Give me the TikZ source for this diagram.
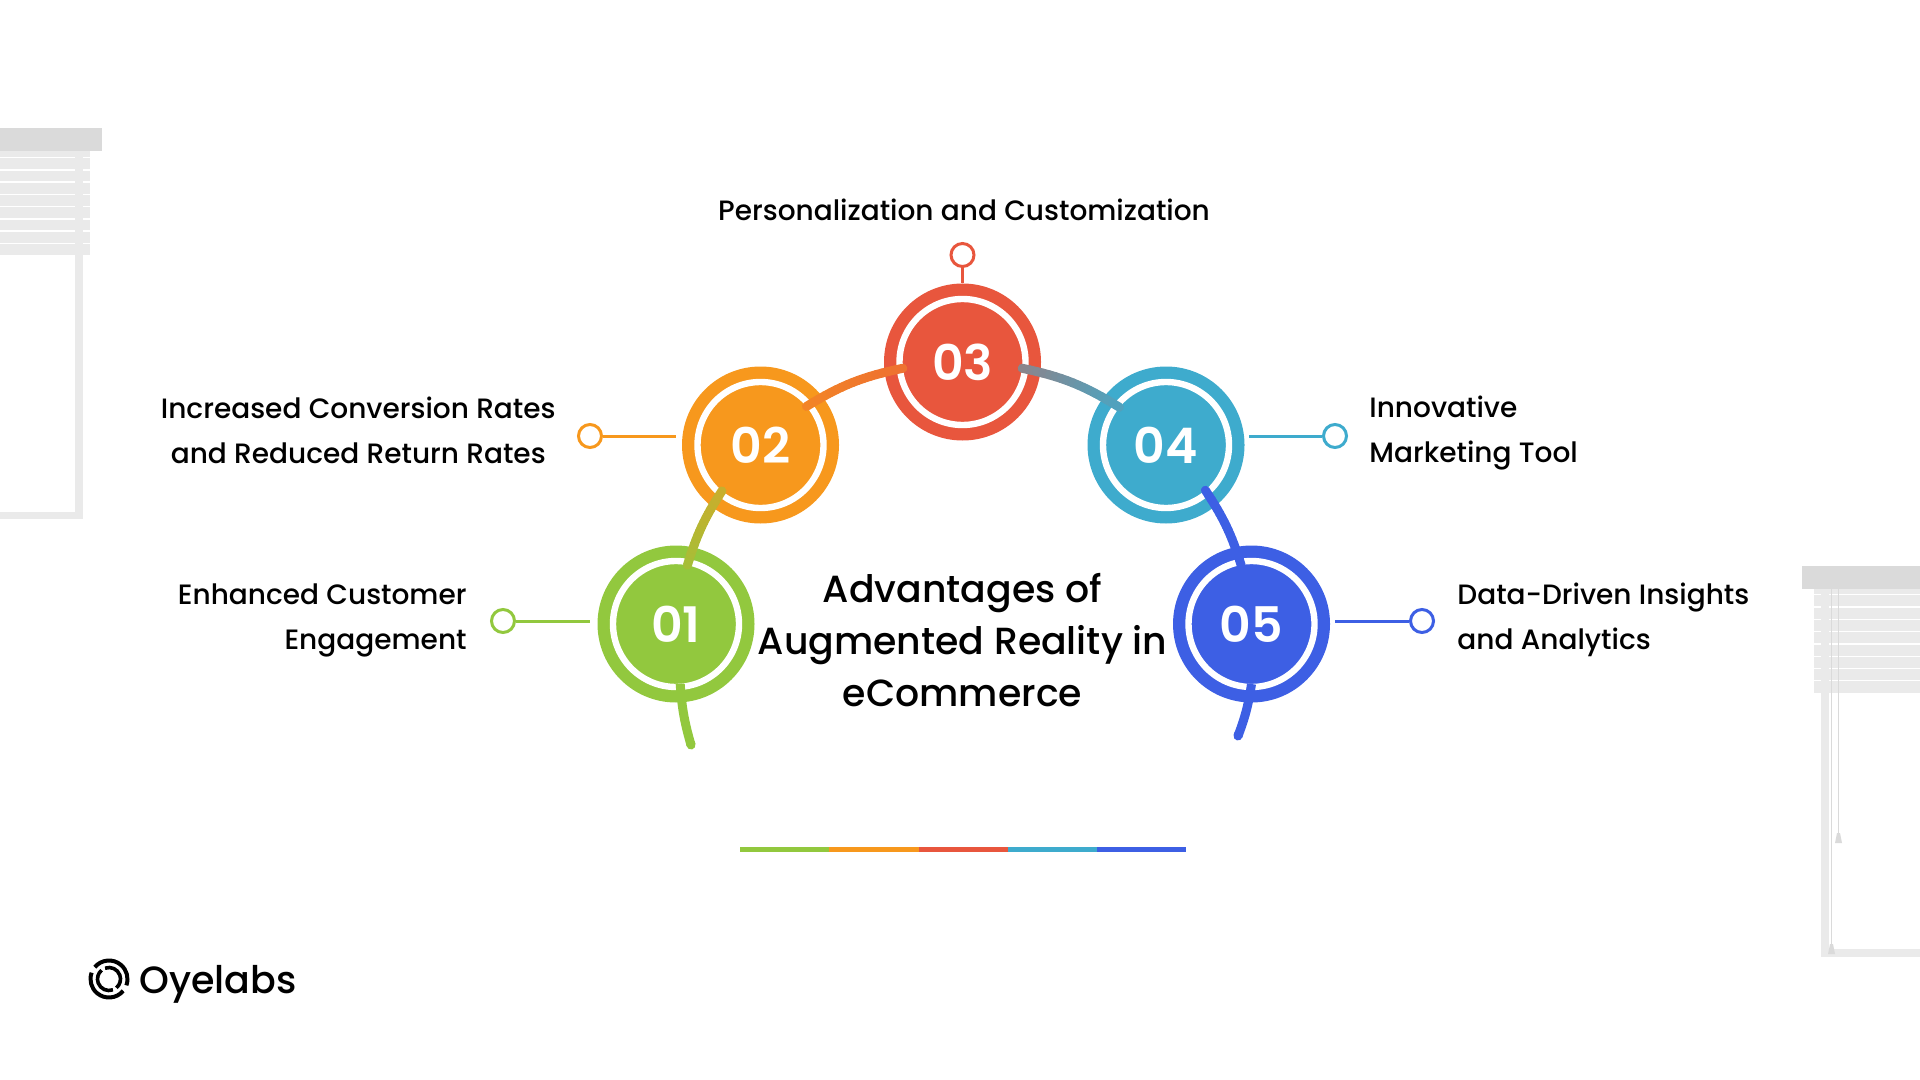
\documentclass[tikz,border=0pt]{standalone}
\usepackage{fontspec}
\setmainfont{Poppins}
\newfontfamily\medfont{Poppins Medium}
\newfontfamily\semifont{Poppins SemiBold}
\usetikzlibrary{calc}
\definecolor{cgreen}{HTML}{92C83E}
\definecolor{corange}{HTML}{F7981D}
\definecolor{cred}{HTML}{E8563D}
\definecolor{cteal}{HTML}{3EABCD}
\definecolor{cblue}{HTML}{3D5FE4}
\definecolor{cslat}{HTML}{EAEAEA}
\definecolor{cbar}{HTML}{DADADA}
\tikzstyle{badge} = [circle, minimum size=78.5pt, inner sep=0pt, text=white, font=\fontsize{24.5}{24.5}\semifont]
\tikzstyle{pin} = [circle, draw, fill=white, line width=1.5pt, minimum size=11.5pt, inner sep=0pt]
\tikzstyle{lead} = [line width=1.5pt]
\tikzstyle{band} = [line width=4.5pt, line cap=round]
\tikzstyle{tail} = [line width=4.5pt]
\tikzstyle{label} = [font=\fontsize{14}{22.5}\medfont, text=black, inner sep=0pt]
\newcommand{\fadearc}[5]{%
	\foreach \i in {0,...,15} {
		\pgfmathsetmacro\mix{100*\i/15}
		\path (#1) to[#3] coordinate[pos=\i/16] (pa) coordinate[pos=(\i+1)/16] (pb) (#2);
		\draw [band, #5!\mix!#4] (pa) -- (pb);
	}
}
\begin{document}
\begin{tikzpicture}[x=0.5pt, y=-0.5pt]
	\useasboundingbox (0,0) rectangle (1920,1080);

	% blinds, left
	\fill [cslat] (0,151) rectangle (90,255);
	\foreach \y in {157,169.2,181.5,193.8,206,218.2,230.5,242.8}
		\fill [white] (0,\y) rectangle (90,\y+1.4);
	\fill [cslat] (75,151) rectangle (83,519);
	\fill [cslat] (0,511.5) rectangle (83,519);
	\fill [cbar] (0,128) rectangle (102,151);

	% blinds, right
	\fill [cslat] (1814,589) rectangle (1920,693);
	\foreach \y in {594,606.3,618.6,630.9,643.2,655.5,667.8,680}
		\fill [white] (1814,\y) rectangle (1920,\y+1.4);
	\fill [cslat] (1821,589) rectangle (1829,957);
	\fill [cslat] (1821,949) rectangle (1920,957);
	\fill [cbar] (1802,566) rectangle (1920,589);
	\draw [cbar, line width=0.8pt] (1831.5,589) -- (1831.5,945);
	\draw [cbar, line width=0.8pt] (1838.5,589) -- (1838.5,834);
	\fill [cbar] (1830,944) -- (1833,944) -- (1835,954) -- (1828,954) -- cycle;
	\fill [cbar] (1837,833) -- (1840,833) -- (1842,843) -- (1835,843) -- cycle;

	% badges
	\node (n1) [badge, fill=cgreen] at (676,624) {01};
	\node (n2) [badge, fill=corange] at (760.5,445) {02};
	\node (n3) [badge, fill=cred] at (962.5,362) {03};
	\node (n4) [badge, fill=cteal] at (1166,445) {04};
	\node (n5) [badge, fill=cblue] at (1251.5,624) {05};
	\foreach \n in {n1,n2,n3,n4,n5}
		\draw [white, line width=3.2pt] (\n) circle (63);

	% band round the badges
	\coordinate (c1) at ($(n1)+(-79:60)$);
	\coordinate (c2) at ($(n2)+(-230:60)$);
	\coordinate (d2) at ($(n2)+(-40:60)$);
	\coordinate (d3) at ($(n3)+(-186:60)$);
	\coordinate (e3) at ($(n3)+(6:60)$);
	\coordinate (e4) at ($(n4)+(-141:60)$);
	\coordinate (f4) at ($(n4)+(49:60)$);
	\coordinate (f5) at ($(n5)+(-100:60)$);
	\coordinate (s1) at ($(n1)+(86:60)$);
	\coordinate (s5) at ($(n5)+(90:60)$);
	\coordinate (tail1) at (691,745);
	\coordinate (tail5) at (1238,736);
	\draw [tail, cgreen] (s1) to[bend right=6] (tail1);
	\draw [tail, cblue] (s5) to[bend left=6] (tail5);
	\draw [band, cgreen] (tail1) -- ++(-0.5,-2);
	\draw [band, cblue] (tail5) -- ++(0.5,-2);
	\fadearc{c1}{c2}{bend left=8}{cgreen!80!corange}{cgreen!60!corange}
	\fadearc{d2}{d3}{bend left=10}{corange!70!cred}{corange!60!cred}
	\fadearc{e3}{e4}{bend left=10}{cred!45!cteal}{cteal!75!cred}
	\fadearc{f4}{f5}{bend left=8}{cblue}{cblue}

	% pins
	\node (p1) [pin, draw=cgreen] at (503,621) {};
	\node (p2) [pin, draw=corange] at (590,436) {};
	\node (p3) [pin, draw=cred] at (962.5,255) {};
	\node (p4) [pin, draw=cteal] at (1335,436) {};
	\node (p5) [pin, draw=cblue] at (1422,621) {};
	\coordinate (q1) at (590,621);
	\coordinate (q2) at (676,436);
	\coordinate (q4) at (1249,436);
	\coordinate (q5) at (1335,621);
	\draw [lead, cgreen] (p1) -- (q1);
	\draw [lead, corange] (p2) -- (q2);
	\draw [lead, cred] (p3) -- (n3);
	\draw [lead, cteal] (p4) -- (q4);
	\draw [lead, cblue] (p5) -- (q5);

	% labels
	\node (t3) [label] at (964,209.5) {Personalization and Customization};
	\node (t2) [label, align=center, anchor=east] at (556,430) {Increased Conversion Rates\\and Reduced Return Rates};
	\node (t1) [label, align=right, anchor=east] at (467,620) {Enhanced Customer\\Engagement};
	\node (t4) [label, align=left, anchor=west] at (1369,433.5) {Innovative\\Marketing Tool};
	\node (t5) [label, align=left, anchor=west] at (1457,620) {Data-Driven Insights\\and Analytics};
	\node (title) [align=center, font=\fontsize{18.9}{26}\medfont] at (962.5,640) {Advantages of\\Augmented Reality in\\eCommerce};

	% colour rule
	\fill [cgreen] (740,847) rectangle (829,852);
	\fill [corange] (829,847) rectangle (918.5,852);
	\fill [cred] (918.5,847) rectangle (1007.5,852);
	\fill [cteal] (1007.5,847) rectangle (1097,852);
	\fill [cblue] (1097,847) rectangle (1186,852);

	% logo
	\foreach \a in {0,180} {
		\draw [line width=2pt] (109,979) ++(\a+40:18.5) arc (\a+40:\a+200:18.5);
		\draw [line width=1.8pt] (109,979) ++(\a+70:11.5) arc (\a+70:\a+230:11.5);
	}
	\node (logo) [anchor=west, inner sep=0pt, font=\fontsize{19}{19}\medfont] at (139,984) {Oyelabs};
\end{tikzpicture}
\end{document}
